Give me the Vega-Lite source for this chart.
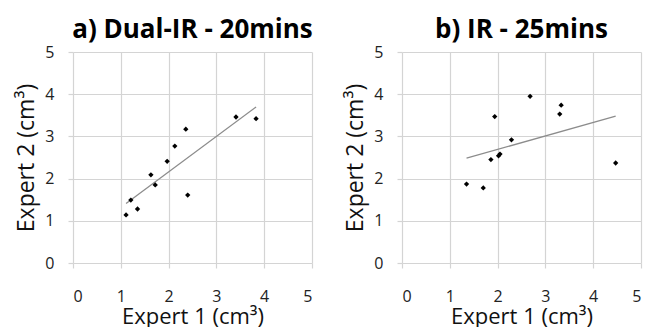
{
  "$schema": "https://vega.github.io/schema/vega-lite/v6.json",
  "padding": {"left": 15, "top": 17, "right": 5, "bottom": 0},
  "background": "white",
  "datasets": {
    "a": [
      {"e1": 1.11, "e2": 1.14}, {"e1": 1.21, "e2": 1.49}, {"e1": 1.35, "e2": 1.28},
      {"e1": 1.63, "e2": 2.09}, {"e1": 1.72, "e2": 1.85}, {"e1": 1.97, "e2": 2.41},
      {"e1": 2.13, "e2": 2.77}, {"e1": 2.36, "e2": 3.17}, {"e1": 2.40, "e2": 1.61},
      {"e1": 3.41, "e2": 3.46}, {"e1": 3.83, "e2": 3.42}
    ],
    "b": [
      {"e1": 1.35, "e2": 1.87}, {"e1": 1.70, "e2": 1.78}, {"e1": 1.86, "e2": 2.45},
      {"e1": 1.94, "e2": 3.47}, {"e1": 2.02, "e2": 2.54}, {"e1": 2.05, "e2": 2.58},
      {"e1": 2.29, "e2": 2.92}, {"e1": 2.68, "e2": 3.95}, {"e1": 3.30, "e2": 3.53},
      {"e1": 3.33, "e2": 3.74}, {"e1": 4.47, "e2": 2.37}
    ]
  },
  "config": {
    "view": {"stroke": null},
    "font": "Open Sans",
    "axis": {
      "grid": true, "gridColor": "#d4d4d4", "gridWidth": 1.2,
      "domain": false, "tickColor": "#d4d4d4", "tickSize": 5, "tickWidth": 1.2,
      "labelFont": "Open Sans", "labelFontSize": 16, "labelColor": "#222",
      "titleFont": "Open Sans", "titleFontSize": 23, "titleFontWeight": "normal", "titleColor": "#111"
    },
    "axisX": {"labelPadding": 20, "titlePadding": 2, "titleFontSize": 22},
    "axisY": {"labelPadding": 14, "titlePadding": 6},
    "title": {"font": "Open Sans", "fontSize": 26, "fontWeight": "bold", "color": "#000", "anchor": "middle", "offset": 1},
    "concat": {"spacing": 31}
  },
  "hconcat": [
    {
      "title": "a) Dual-IR - 20mins",
      "width": 239, "height": 211,
      "data": {"name": "a"},
      "encoding": {
        "x": {"field": "e1", "type": "quantitative", "title": "Expert 1 (cm³)",
              "scale": {"domain": [0, 5], "nice": false}, "axis": {"values": [0, 1, 2, 3, 4, 5]}},
        "y": {"field": "e2", "type": "quantitative", "title": "Expert 2 (cm³)",
              "scale": {"domain": [0, 5], "nice": false}, "axis": {"values": [0, 1, 2, 3, 4, 5]}}
      },
      "layer": [
        {"transform": [{"regression": "e2", "on": "e1"}],
         "mark": {"type": "line", "color": "#8c8c8c", "strokeWidth": 1.3}},
        {"mark": {"type": "point", "shape": "diamond", "filled": true, "color": "#000", "size": 28, "opacity": 1}}
      ]
    },
    {
      "title": "b) IR - 25mins",
      "width": 239, "height": 211,
      "data": {"name": "b"},
      "encoding": {
        "x": {"field": "e1", "type": "quantitative", "title": "Expert 1 (cm³)",
              "scale": {"domain": [0, 5], "nice": false}, "axis": {"values": [0, 1, 2, 3, 4, 5]}},
        "y": {"field": "e2", "type": "quantitative", "title": "Expert 2 (cm³)",
              "scale": {"domain": [0, 5], "nice": false}, "axis": {"values": [0, 1, 2, 3, 4, 5]}}
      },
      "layer": [
        {"transform": [{"regression": "e2", "on": "e1"}],
         "mark": {"type": "line", "color": "#8c8c8c", "strokeWidth": 1.3}},
        {"mark": {"type": "point", "shape": "diamond", "filled": true, "color": "#000", "size": 28, "opacity": 1}}
      ]
    }
  ]
}
